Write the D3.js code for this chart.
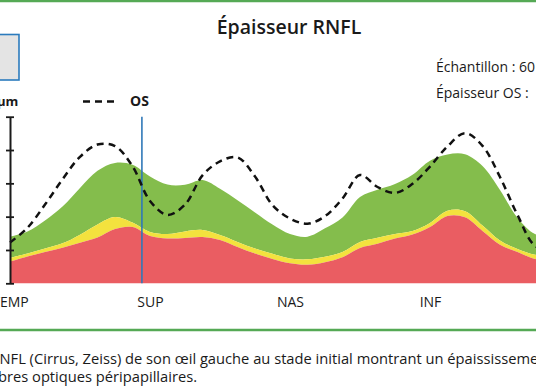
<!DOCTYPE html>
<html>
<head>
<meta charset="utf-8">
<script src="https://cdn.jsdelivr.net/npm/d3@7"></script>
<style>
  html, body { margin: 0; padding: 0; background: #fff; }
  svg { display: block; }
  text { font-family: "Open Sans", sans-serif; fill: #1a1a1a; }
</style>
</head>
<body>
<svg id="chart" width="536" height="386"></svg>
<script>
// ---- data (µm), sampled every 8 of 256 A-scan positions around the disc ----
const positions = d3.range(0, 257, 8);
const p1Values = [32.4,40.1,47,53.3,60.9,68.6,81.5,84.5,71,67.2,68,69.5,65,54.5,44.6,36.5,30,27.8,31.7,39.2,53,59.3,67.2,73.2,84.5,101,99,78.5,57.8,47,36.5,34.5,32.4];
const p5Values = [38,44.9,52.2,60,73,88.4,99.5,91.2,77,74,77.9,80,72.5,62.1,52.1,44.4,37.4,36,39.8,46.9,62,68.3,74,78.3,90.5,108.8,108.2,86.7,64.2,51.5,42.9,41,38];
const p95Values = [70,77.6,94.2,115.2,143,168.8,180.5,177.8,160.2,148.2,147.9,155,141.9,124.5,106.2,88.2,74,70,82.5,98.7,129.5,140.3,149,162.8,184,193.4,193.7,176,140,98.5,74,71,70];
const osValues = [61.2,83.4,118.1,155.9,189.8,208.2,206,175.7,123.6,102.6,118.1,161.9,183,189,160.2,117.3,97.2,89.4,100.7,127.2,162.5,144.5,135.6,149.3,175.2,205.5,225.3,206.3,159.5,102.5,56.3,50,61.2];
const sectorLabels = ["TEMP","SUP","NAS","INF","TEMP"];
const sectorPositions = [0, 64, 128, 192, 256];
const yTicks = [0, 50, 100, 150, 200, 250];
const markerPosition = 60.3;
const titleText = "Épaisseur RNFL";
const infoLines = ["Échantillon : 60", "Épaisseur OS :"];
const captionLines = [
  "RNFL (Cirrus, Zeiss) de son œil gauche au stade initial montrant un épaississement des",
  "fibres optiques péripapillaires."
];

const svg = d3.select("#chart");
const W = 536;

const x = d3.scaleLinear().domain([0, 256]).range([10, 570]);
const y = d3.scaleLinear().domain([0, 250]).range([283.3, 116.7]);

const rows = positions.map((p, i) => ({p, p1: p1Values[i], p5: p5Values[i], p95: p95Values[i], os: osValues[i]}));
const curve = d3.curveCatmullRom.alpha(0.5);

// frame lines
svg.append("line").attr("x1", 0).attr("x2", W).attr("y1", 1).attr("y2", 1)
  .attr("stroke", "#55a955").attr("stroke-width", 2.5);
svg.append("line").attr("x1", 0).attr("x2", W).attr("y1", 330).attr("y2", 330)
  .attr("stroke", "#55a955").attr("stroke-width", 2.5);

// title
svg.append("text").attr("x", 289).attr("y", 33.5).attr("text-anchor", "middle")
  .style("font-size", "19.5px").style("font-weight", 600).text(titleText);

// grey box
svg.append("rect").attr("x", -5).attr("y", 34.5).attr("width", 24).attr("height", 45.5)
  .attr("fill", "#e4e4e4").attr("stroke", "#2b7bbd").attr("stroke-width", 1.6);

// info texts
infoLines.forEach((t, i) => {
  svg.append("text").attr("x", 436).attr("y", 72 + i * 25.5)
    .style("font-size", "14px").text(t);
});

// unit + legend
svg.append("text").attr("x", -3).attr("y", 106).style("font-size", "13px").style("font-weight", 700).text("µm");
svg.append("line").attr("x1", 83).attr("x2", 115).attr("y1", 101.5).attr("y2", 101.5)
  .attr("stroke", "#111").attr("stroke-width", 2.5).attr("stroke-dasharray", "7,5");
svg.append("text").attr("x", 130).attr("y", 106).style("font-size", "14px").style("font-weight", 700).text("OS");

// bands
const band = (lo, hi) => d3.area().x(d => x(d.p)).y0(d => lo(d)).y1(d => y(hi(d))).curve(curve);
const g = svg.append("g");
g.append("path").datum(rows).attr("fill", "#84bd4c")
  .attr("d", band(d => y(d.p5), d => d.p95));
g.append("path").datum(rows).attr("fill", "#f3e23e")
  .attr("d", band(d => y(d.p1), d => d.p5));
g.append("path").datum(rows).attr("fill", "#ea5d62")
  .attr("d", band(d => y(0), d => d.p1));

// marker line
svg.append("line").attr("x1", x(markerPosition)).attr("x2", x(markerPosition))
  .attr("y1", y(0)).attr("y2", y(250)).attr("stroke", "#2f78b8").attr("stroke-width", 1.6);

// OS dashed line
svg.append("path").datum(rows).attr("fill", "none").attr("stroke", "#111")
  .attr("stroke-width", 2.5).attr("stroke-dasharray", "7,5")
  .attr("d", d3.line().x(d => x(d.p)).y(d => y(d.os)).curve(curve));

// y axis
const yAxis = svg.append("g").attr("transform", "translate(10,0)")
  .call(d3.axisLeft(y).tickValues(yTicks).tickSize(4).tickSizeOuter(0).tickFormat(""));
yAxis.select(".domain").attr("stroke", "#1a1a1a").attr("stroke-width", 2);
yAxis.selectAll(".tick line").attr("x1", -4).attr("x2", 4).attr("stroke", "#1a1a1a").attr("stroke-width", 1.8);

// x labels
const xAxis = svg.append("g").attr("transform", "translate(0,283.3)")
  .call(d3.axisBottom(x).tickValues(sectorPositions).tickFormat((d, i) => sectorLabels[i]).tickSize(0).tickPadding(14));
xAxis.select(".domain").remove();
xAxis.selectAll(".tick text").style("font-size", "14px").style("font-family", "Open Sans, sans-serif").attr("fill", "#1a1a1a");

// caption (clipped at left edge like the source crop)
const c1 = svg.append("text").attr("y", 364).style("font-size", "14.7px").text(captionLines[0]);
c1.attr("x", -c1.node().getSubStringLength(0, 1) - 0.5);
const c2 = svg.append("text").attr("y", 382).style("font-size", "14.7px").text(captionLines[1]);
c2.attr("x", -c2.node().getSubStringLength(0, 2) - 2);
</script>
</body>
</html>
